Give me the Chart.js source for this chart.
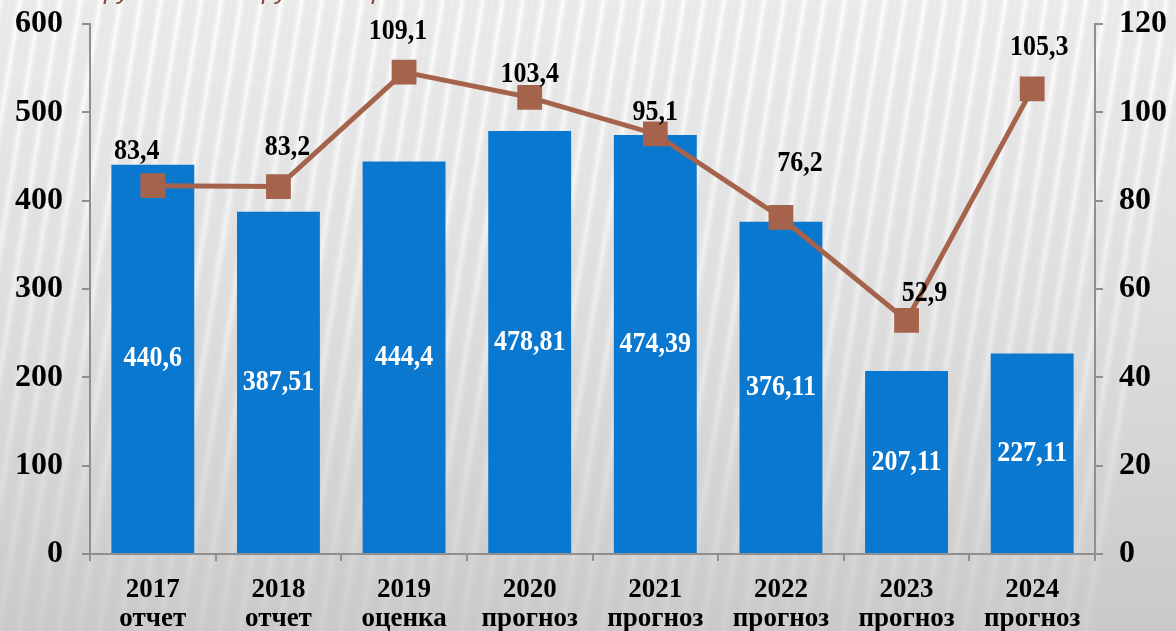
<!DOCTYPE html>
<html>
<head>
<meta charset="utf-8">
<script src="https://cdn.jsdelivr.net/npm/chart.js@4/dist/chart.umd.min.js"></script>
<style>
html,body{margin:0;padding:0;background:#e6e6e6;}
#wrap{width:1176px;height:631px;position:relative;}
</style>
</head>
<body>
<div id="wrap"><canvas id="c" width="1176" height="631"></canvas></div>
<script>
const categories = [["2017","отчет"],["2018","отчет"],["2019","оценка"],["2020","прогноз"],["2021","прогноз"],["2022","прогноз"],["2023","прогноз"],["2024","прогноз"]];
const barValues = [440.6, 387.51, 444.4, 478.81, 474.39, 376.11, 207.11, 227.11];
const barLabels = ["440,6","387,51","444,4","478,81","474,39","376,11","207,11","227,11"];
const lineValues = [83.4, 83.2, 109.1, 103.4, 95.1, 76.2, 52.9, 105.3];
const lineLabels = ["83,4","83,2","109,1","103,4","95,1","76,2","52,9","105,3"];
const leftTicks = [0,100,200,300,400,500,600];
const rightTicks = [0,20,40,60,80,100,120];

const SERIF = '"Liberation Serif","Times New Roman",serif';
const lineLabelOffsets = [[-16,-34],[9,-39],[-6,-41],[0,-23],[0,-22],[19,-54],[18,-27],[7,-41]];

const bgPlugin = {
  id:'bg',
  beforeDraw(chart){
    const ctx = chart.ctx, w = chart.width, h = chart.height;
    ctx.save();
    const g = ctx.createLinearGradient(0,0,0,h);
    g.addColorStop(0,'#fbfbfb');
    g.addColorStop(0.45,'#e6e6e6');
    g.addColorStop(1,'#cacaca');
    ctx.fillStyle = g;
    ctx.fillRect(0,0,w,h);
    const s = ctx.createLinearGradient(0,0,w,190);
    const period = 23;
    const n = Math.ceil((w+200)/period);
    for(let i=0;i<n;i++){
      const a = i/n, b = (i+0.5)/n;
      s.addColorStop(Math.min(a,1),'rgba(255,255,255,0.6)');
      s.addColorStop(Math.min(b,1),'rgba(160,160,160,0.16)');
    }
    ctx.fillStyle = s;
    for(let y=0;y<h;y+=8){
      ctx.globalAlpha = Math.max(0.15, 1 - y/h*0.85);
      ctx.fillRect(0,y,w,8);
    }
    ctx.globalAlpha = 1;
    ctx.fillStyle = '#8e4a3b';
    ctx.font = 'italic 26px "Liberation Sans", Arial, sans-serif';
    ctx.textBaseline = 'alphabetic';
    ctx.fillText('ру',104,-1);
    ctx.fillText('ру',262,-1);
    ctx.fillText('р',372,-1);
    ctx.restore();
  }
};

function tallText(ctx, text, x, y, sy){
  ctx.save();
  ctx.translate(x,y);
  ctx.scale(1,sy);
  ctx.fillText(text,0,0);
  ctx.restore();
}

const labelPlugin = {
  id:'labels',
  afterDatasetsDraw(chart){
    const ctx = chart.ctx;
    ctx.save();
    ctx.textAlign='center';
    ctx.textBaseline='middle';
    ctx.font = 'bold 26px '+SERIF;
    const barMeta = chart.getDatasetMeta(1);
    ctx.fillStyle = '#ffffff';
    barMeta.data.forEach((el,i)=>{
      const p = el.getProps(['x','y','base'],true);
      tallText(ctx, barLabels[i], p.x, (p.y+p.base)/2, 1.12);
    });
    const lineMeta = chart.getDatasetMeta(0);
    ctx.fillStyle = '#000000';
    lineMeta.data.forEach((el,i)=>{
      const p = el.getProps(['x','y'],true);
      const o = lineLabelOffsets[i];
      tallText(ctx, lineLabels[i], p.x+o[0], p.y+o[1], 1.12);
    });
    ctx.restore();
  }
};

const axisColor = '#8f8f8f';
new Chart(document.getElementById('c'),{
  data:{
    labels: categories,
    datasets:[
      {type:'line', data: lineValues, yAxisID:'y1', order:0,
       borderColor:'#a5634c', backgroundColor:'#a5634c', borderWidth:5,
       pointStyle:'rect', pointRadius:14, pointHoverRadius:14, tension:0, clip:false},
      {type:'bar', data: barValues, yAxisID:'y', order:1,
       backgroundColor:'#0b78d0', categoryPercentage:1.0, barPercentage:0.66}
    ]
  },
  options:{
    responsive:false,
    animation:false,
    events:[],
    layout:{autoPadding:false, padding:{top:24,left:0,right:0,bottom:0}},
    plugins:{legend:{display:false},tooltip:{enabled:false}},
    scales:{
      x:{
        offset:true,
        grid:{display:true, offset:true, drawOnChartArea:false, drawTicks:true, tickLength:7, color:axisColor, lineWidth:2},
        border:{display:true, color:axisColor, width:2},
        ticks:{color:'#000', font:{family:SERIF, weight:'bold', size:27, lineHeight:1.08}, padding:14, maxRotation:0, autoSkip:false},
        afterFit(s){ s.height = 77; }
      },
      y:{
        position:'left', min:0, max:600,
        afterBuildTicks(s){ s.ticks = leftTicks.map(v=>({value:v})); },
        grid:{display:true, drawOnChartArea:false, drawTicks:true, tickLength:8, color:axisColor, lineWidth:2},
        border:{display:true, color:axisColor, width:2},
        ticks:{color:'#000', font:{family:SERIF, weight:'bold', size:32}, padding:19},
        afterFit(s){ s.width = 90; s.paddingTop = 10; s.paddingBottom = 0; }
      },
      y1:{
        position:'right', min:0, max:120,
        afterBuildTicks(s){ s.ticks = rightTicks.map(v=>({value:v})); },
        grid:{display:true, drawOnChartArea:false, drawTicks:true, tickLength:8, color:axisColor, lineWidth:2},
        border:{display:true, color:axisColor, width:2},
        ticks:{color:'#000', font:{family:SERIF, weight:'bold', size:32}, padding:16},
        afterFit(s){ s.width = 81; s.paddingTop = 10; s.paddingBottom = 0; }
      }
    }
  },
  plugins:[bgPlugin,labelPlugin]
});
</script>
</body>
</html>
